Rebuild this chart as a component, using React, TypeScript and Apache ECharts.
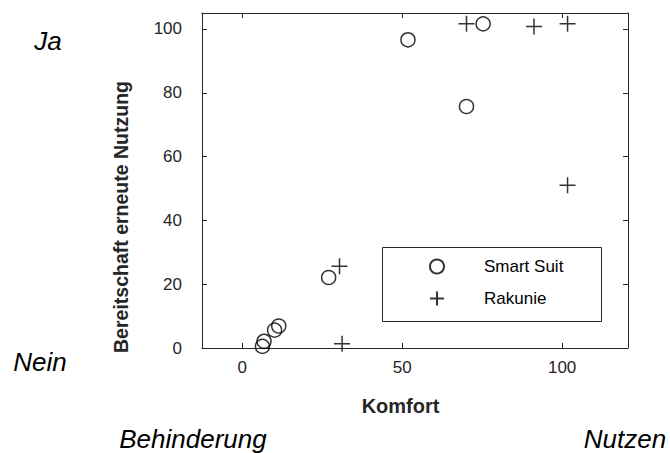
import React, { useEffect, useRef } from "react";
import * as echarts from "echarts";

const seriesNames = ["Smart Suit", "Rakunie"];
const smartSuit: [number, number][] = [
  [51.8, 96.6],
  [75.3, 101.6],
  [70.1, 75.7],
  [27.0, 22.1],
  [11.4, 6.9],
  [10.1, 5.6],
  [6.8, 2.1],
  [6.3, 0.5],
];
const rakunie: [number, number][] = [
  [70.1, 101.6],
  [91.2, 100.8],
  [101.7, 101.6],
  [101.7, 51.0],
  [30.4, 25.6],
  [31.2, 1.3],
];
const xTicks = [0, 50, 100];
const yTicks = [0, 20, 40, 60, 80, 100];
const xLabel = "Komfort";
const yLabel = "Bereitschaft erneute Nutzung";
const cornerLabels = { top: "Ja", bottom: "Nein", left: "Behinderung", right: "Nutzen" };

const AXIS = "#262626";
const FONT = "Liberation Sans, Arial, sans-serif";

export default function App() {
  const ref = useRef<HTMLDivElement>(null);
  useEffect(() => {
    document.body.style.margin = "0";
    const chart = echarts.init(ref.current!, null, { renderer: "svg" });
    const markerStyle = { color: "transparent", borderColor: "#000", borderWidth: 1.5 };
    const axisCommon = {
      type: "value" as const,
      axisLine: { show: true, onZero: false, lineStyle: { color: AXIS, width: 1 } },
      axisTick: { show: true, inside: true, length: 5, lineStyle: { color: AXIS } },
      splitLine: { show: false },
    };
    const italic = (text: string, x: number, y: number) => ({
      type: "text",
      x,
      y,
      style: { text, font: `italic 26px ${FONT}`, fill: "#000", align: "center", verticalAlign: "middle" },
    });
    chart.setOption({
      animation: false,
      textStyle: { fontFamily: FONT },
      grid: { left: 202, top: 13, width: 426, height: 335 },
      xAxis: [
        {
          ...axisCommon,
          position: "bottom",
          min: -12.6,
          max: 120.6,
          axisTick: { ...axisCommon.axisTick, customValues: xTicks },
          axisLabel: { customValues: xTicks, color: AXIS, fontSize: 17, margin: 11, fontFamily: FONT },
        },
        {
          ...axisCommon,
          position: "top",
          min: -12.6,
          max: 120.6,
          axisTick: { ...axisCommon.axisTick, customValues: xTicks },
          axisLabel: { show: false },
        },
      ],
      yAxis: [
        {
          ...axisCommon,
          position: "left",
          min: 0,
          max: 105,
          axisTick: { ...axisCommon.axisTick, customValues: yTicks },
          axisLabel: {
            customValues: yTicks,
            color: AXIS,
            fontSize: 17,
            margin: 20,
            fontFamily: FONT,
            padding: [0, 0, 8, 0],
          },
        },
        {
          ...axisCommon,
          position: "right",
          min: 0,
          max: 105,
          axisTick: { ...axisCommon.axisTick, customValues: yTicks },
          axisLabel: { show: false },
        },
      ],
      legend: {
        orient: "vertical",
        left: 424,
        top: 253,
        itemWidth: 14,
        itemHeight: 14,
        itemGap: 15,
        data: seriesNames,
        textStyle: { fontSize: 17, color: "#000", fontFamily: FONT, padding: [0, 0, 0, 35] },
      },
      series: [
        {
          name: seriesNames[0],
          type: "scatter",
          symbol: "circle",
          symbolSize: 14,
          itemStyle: markerStyle,
          data: smartSuit,
        },
        {
          name: seriesNames[1],
          type: "scatter",
          symbol: "path://M0,8L16,8M8,0L8,16",
          symbolSize: 16,
          itemStyle: markerStyle,
          data: rakunie,
        },
      ],
      graphic: [
        {
          type: "rect",
          shape: { x: 382.5, y: 247.5, width: 219, height: 74 },
          style: { fill: "none", stroke: AXIS, lineWidth: 1 },
          z: 10,
        },
        {
          type: "text",
          x: 400.5,
          y: 406,
          style: { text: xLabel, font: `bold 20px ${FONT}`, fill: AXIS, align: "center", verticalAlign: "middle" },
        },
        {
          type: "text",
          x: 121,
          y: 217,
          rotation: Math.PI / 2,
          style: { text: yLabel, font: `bold 19.5px ${FONT}`, fill: AXIS, align: "center", verticalAlign: "middle" },
        },
        italic(cornerLabels.top, 48, 41),
        italic(cornerLabels.bottom, 40, 362),
        italic(cornerLabels.left, 193, 439),
        italic(cornerLabels.right, 625, 439),
      ],
    });
    return () => chart.dispose();
  }, []);
  return <div ref={ref} style={{ width: 670, height: 453 }} />;
}
